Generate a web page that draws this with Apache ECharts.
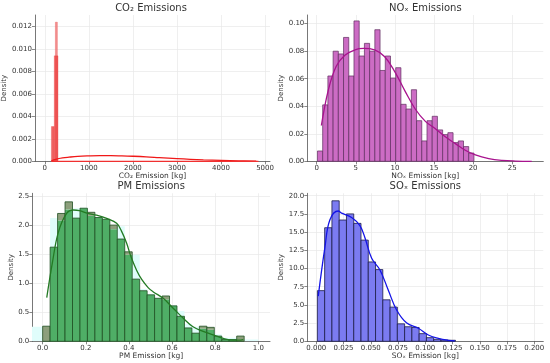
<!DOCTYPE html>
<html><head><meta charset="utf-8">
<script src="https://cdn.jsdelivr.net/npm/echarts@6/dist/echarts.min.js"></script>
<style>html,body{margin:0;padding:0;background:#fff}#c{width:550px;height:363px}</style>
</head><body><div id="c"></div>
<script>
// ---------- DATA ----------
const titles = ['CO\u2082 Emissions', 'NO\u2093 Emissions', 'PM Emissions', 'SO\u2093 Emissions'];
const xNames = ['CO\u2082 Emission [kg]', 'NO\u2093 Emission [kg]', 'PM Emission [kg]', 'SO\u2093 Emission [kg]'];

// CO2 histogram (irregular bins)
const co2Lo = [240, 150, 215];
const co2Hi = [285, 215, 300];
const co2H  = [0.0124, 0.0031, 0.0094];
const co2KdeX = [150, 250, 400, 550, 750, 1000, 1250, 1500, 1750, 2000, 2300, 2600, 3000, 3300, 3600, 4000, 4400, 4800];
const co2KdeY = [0.00005, 0.00018, 0.0003, 0.00037, 0.00044, 0.00048, 0.0005, 0.0005, 0.00048, 0.00045, 0.0004, 0.00033, 0.00024, 0.00018, 0.00013, 0.00008, 0.00004, 0.00001];
const co2BaseX = [150, 4850];
const co2BaseY = [0, 0];
const co2XTicks = [0, 1000, 2000, 3000, 4000, 5000];
const co2YTicks = [0, 0.002, 0.004, 0.006, 0.008, 0.010, 0.012];

// NOx histogram
const noxBinStart = 0.1, noxBinWidth = 0.667;
const noxH = [0.0075, 0.041, 0.062, 0.080, 0.078, 0.090, 0.062, 0.102, 0.0765, 0.0857,
              0.080, 0.0956, 0.066, 0.0765, 0.0605, 0.068, 0.0414, 0.038, 0.052, 0.0295,
              0.0148, 0.0295, 0.0327, 0.0228, 0.0194, 0.0208, 0.0136, 0.0148, 0.0107, 0.006];
const noxKdeX = [0.6, 1.5, 2.5, 3.6, 4.9, 6.0, 7.4, 8.7, 10.0, 11.3, 12.6, 13.9, 15.1, 16.4, 17.7, 19.0, 20.3, 22.0, 23.7, 25.4, 27.5];
const noxKdeY = [0.026, 0.052, 0.069, 0.077, 0.081, 0.082, 0.081, 0.076, 0.065, 0.051, 0.038, 0.029, 0.024, 0.018, 0.013, 0.008, 0.0046, 0.002, 0.0007, 0.0002, 0.0];
const noxXTicks = [0, 5, 10, 15, 20, 25];
const noxYTicks = [0, 0.02, 0.04, 0.06, 0.08, 0.10];

// PM histogram (green bars) and the light cyan layer behind them, per bin
const pmBinStart = 0.0, pmBinWidth = 0.0346;
const pmH = [0.26, 1.62, 2.20, 2.40, 2.12, 2.29, 2.22, 2.13, 2.10, 2.00,
             1.76, 1.54, 1.07, 0.87, 0.80, 0.74, 0.78, 0.61, 0.43, 0.23,
             0.14, 0.26, 0.24, 0.09, 0.03, 0.03, 0.09];
const pmCyanH = [0.0, 2.12, 2.08, 2.27, 2.29, 2.30, 2.16, 2.14, 2.11, 1.93,
                 1.98, 1.49, 1.49, 0.90, 0.82, 0.75, 0.72, 0.62, 0.52, 0.30,
                 0.25, 0.22, 0.20, 0.12, 0.06, 0.06, 0.0];
const pmCyanExtraLo = [-0.06, 0.934];
const pmCyanExtraHi = [-0.003, 1.0];
const pmCyanExtraH  = [0.25, 0.03];
const pmKdeX = [0.019, 0.045, 0.073, 0.111, 0.142, 0.17, 0.21, 0.25, 0.30, 0.343, 0.365, 0.389, 0.41, 0.436, 0.46, 0.49, 0.513, 0.559, 0.605, 0.651, 0.697, 0.744, 0.79, 0.837, 0.883, 0.91, 0.93];
const pmKdeY = [0.75, 1.35, 1.88, 2.2, 2.26, 2.25, 2.2, 2.17, 2.11, 2.03, 1.9, 1.69, 1.45, 1.22, 1.06, 0.92, 0.85, 0.74, 0.57, 0.40, 0.25, 0.17, 0.11, 0.05, 0.02, 0.02, 0.03];
const pmXTicks = [0, 0.2, 0.4, 0.6, 0.8, 1.0];
const pmYTicks = [0, 0.5, 1.0, 1.5, 2.0, 2.5];

// SOx histogram
const soxBinStart = 0.001, soxBinWidth = 0.00667;
const soxH = [6.96, 15.6, 19.3, 16.66, 17.5, 16.2, 13.9, 10.9, 9.85, 5.7,
              4.7, 2.4, 2.0, 1.9, 1.05, 0.5, 0.27, 0.18, 0.14];
const soxKdeX = [0.0018, 0.008, 0.0125, 0.0202, 0.0232, 0.0324, 0.040, 0.0447, 0.0508, 0.0584, 0.066, 0.0737, 0.083, 0.0936, 0.1028, 0.112, 0.121, 0.127];
const soxKdeY = [6.2, 13.0, 16.7, 17.9, 17.6, 17.0, 15.9, 14.2, 11.4, 9.8, 7.05, 4.3, 2.5, 1.8, 0.87, 0.41, 0.14, 0.05];
const soxXTicks = [0, 0.025, 0.05, 0.075, 0.1, 0.125, 0.15, 0.175, 0.2];
const soxYTicks = [0, 2.5, 5, 7.5, 10, 12.5, 15, 17.5, 20];

// ---------- BUILD ----------
const FONT = 'DejaVu Sans';
const chart = echarts.init(document.getElementById('c'), null, {renderer: 'canvas'});

const grids = [
  {left: 32, top: 15, width: 238, height: 146.3},
  {left: 307.3, top: 15, width: 236, height: 146.3},
  {left: 32.3, top: 193.3, width: 237.7, height: 148},
  {left: 307.3, top: 193.3, width: 236, height: 148}
];
const xRanges = [[-224, 5112], [-1.2, 28.98], [-0.048, 1.054], [-0.00826, 0.2083]];
const yMax = [0.01304, 0.1063, 2.547, 20.33];
const xTicks = [co2XTicks, noxXTicks, pmXTicks, soxXTicks];
const yTicks = [co2YTicks, noxYTicks, pmYTicks, soxYTicks];
const xFmt = [v => v.toFixed(0), v => v.toFixed(0), v => v.toFixed(1), v => v.toFixed(3)];
const yFmt = [v => v.toFixed(3), v => v.toFixed(2), v => v.toFixed(1), v => v.toFixed(1)];
const yNameGap = [23, 19, 15, 19];

const axLine = {show: true, onZero: false, lineStyle: {color: '#555', width: 0.8}};
const split = {show: true, lineStyle: {color: '#e8e8e8', width: 0.7}};

const xAxis = grids.map((g, i) => ({
  type: 'value', gridIndex: i, min: xRanges[i][0], max: xRanges[i][1],
  axisLine: axLine,
  axisTick: {show: true, inside: false, length: 3, customValues: xTicks[i], lineStyle: {color: '#555', width: 0.7}},
  axisLabel: {customValues: xTicks[i], formatter: xFmt[i], fontSize: 7, color: '#333', margin: 3, fontFamily: FONT},
  splitLine: split,
  name: xNames[i], nameLocation: 'middle', nameGap: 9,
  nameTextStyle: {fontSize: 7.5, color: '#333', fontFamily: FONT}
}));
const yAxis = grids.map((g, i) => ({
  type: 'value', gridIndex: i, min: 0, max: yMax[i],
  axisLine: axLine,
  axisTick: {show: true, inside: false, length: 3, customValues: yTicks[i], lineStyle: {color: '#555', width: 0.7}},
  axisLabel: {customValues: yTicks[i], formatter: yFmt[i], fontSize: 7, color: '#333', margin: 3, fontFamily: FONT},
  splitLine: split,
  name: 'Density', nameLocation: 'middle', nameGap: yNameGap[i],
  nameTextStyle: {fontSize: 7, color: '#333', fontFamily: FONT}
}));

function rectsFrom(lo, hi, h, extra) {
  return h.map((v, i) => [lo[i], hi[i], v, extra ? extra[i] : 0, i]);
}

function histSeries(idx, data, fillFn, stroke, lw) {
  return {
    type: 'custom', xAxisIndex: idx, yAxisIndex: idx, data: data,
    encode: {x: [0, 1], y: 2}, silent: true, animation: false, z: 2,
    renderItem: function (params, api) {
      const a = api.coord([api.value(0), 0]);
      const b = api.coord([api.value(1), api.value(2)]);
      const shp = {x: a[0], y: b[1], width: b[0] - a[0], height: a[1] - b[1]};
      const i = api.value(4);
      if (idx === 2) {
        const c = api.value(3);
        const cPix = api.coord([api.value(0), Math.min(c, api.value(2))])[1];
        return {type: 'group', children: [
          {type: 'rect', shape: {x: a[0], y: cPix, width: b[0] - a[0], height: a[1] - cPix}, style: {fill: '#4fae66'}},
          {type: 'rect', shape: {x: a[0], y: b[1], width: b[0] - a[0], height: cPix - b[1]}, style: {fill: '#8d9f7c'}},
          {type: 'rect', shape: shp, style: {fill: 'none', stroke: stroke, lineWidth: lw}}
        ]};
      }
      return {type: 'rect', shape: shp, style: {fill: fillFn(i), stroke: stroke, lineWidth: lw}};
    }
  };
}

function edges(start, w, n) {
  const lo = [], hi = [];
  for (let i = 0; i < n; i++) { lo.push(start + i * w); hi.push(start + (i + 1) * w); }
  return [lo, hi];
}
const [noxLo, noxHi] = edges(noxBinStart, noxBinWidth, noxH.length);
const [pmLo, pmHi] = edges(pmBinStart, pmBinWidth, pmH.length);
const [soxLo, soxHi] = edges(soxBinStart, soxBinWidth, soxH.length);

function lineSeries(idx, xs, ys, color, w) {
  return {type: 'line', xAxisIndex: idx, yAxisIndex: idx, data: xs.map((x, i) => [x, ys[i]]),
    smooth: 0.4, showSymbol: false, symbol: 'none', silent: true, animation: false, z: 5,
    lineStyle: {color: color, width: w}};
}

function cyanRender(params, api) {
  const a = api.coord([api.value(0), 0]);
  const b = api.coord([api.value(1), api.value(2)]);
  return {type: 'rect', shape: {x: a[0], y: b[1], width: b[0] - a[0], height: a[1] - b[1]}, style: {fill: '#e0fdfb'}};
}
const cyanData = rectsFrom(pmLo, pmHi, pmCyanH).concat(rectsFrom(pmCyanExtraLo, pmCyanExtraHi, pmCyanExtraH));
const cyanSeries = {
  type: 'custom', xAxisIndex: 2, yAxisIndex: 2, data: cyanData,
  encode: {x: [0, 1], y: 2}, silent: true, animation: false, z: 1, clip: true,
  renderItem: cyanRender
};

const series = [
  histSeries(0, rectsFrom(co2Lo, co2Hi, co2H), i => (i === 0 ? 'rgba(240,125,125,0.85)' : 'rgba(236,72,72,0.85)'), 'rgba(230,60,60,0.6)', 0.5),
  lineSeries(0, co2KdeX, co2KdeY, '#f01818', 1.3),
  lineSeries(0, co2BaseX, co2BaseY, '#f03030', 1.2),
  histSeries(1, rectsFrom(noxLo, noxHi, noxH), () => '#cc6cc4', '#5e2d5e', 0.7),
  lineSeries(1, noxKdeX, noxKdeY, '#a8138e', 1.3),
  cyanSeries,
  histSeries(2, rectsFrom(pmLo, pmHi, pmH, pmCyanH), () => '#4fae66', '#1f4f22', 0.8),
  lineSeries(2, pmKdeX, pmKdeY, '#237a23', 1.3),
  histSeries(3, rectsFrom(soxLo, soxHi, soxH), () => '#7b7bf1', '#1c1c48', 0.8),
  lineSeries(3, soxKdeX, soxKdeY, '#1414e6', 1.3)
];

const titleCfg = grids.map((g, i) => ({
  text: titles[i], left: g.left + g.width / 2, top: g.top - 12, textAlign: 'center', padding: 0,
  textStyle: {fontSize: 10, fontWeight: 'normal', color: '#333', fontFamily: FONT}
}));

chart.setOption({
  animation: false,
  backgroundColor: '#fff',
  title: titleCfg,
  grid: grids.map(g => Object.assign({containLabel: false}, g)),
  xAxis: xAxis, yAxis: yAxis, series: series
});
</script></body></html>
